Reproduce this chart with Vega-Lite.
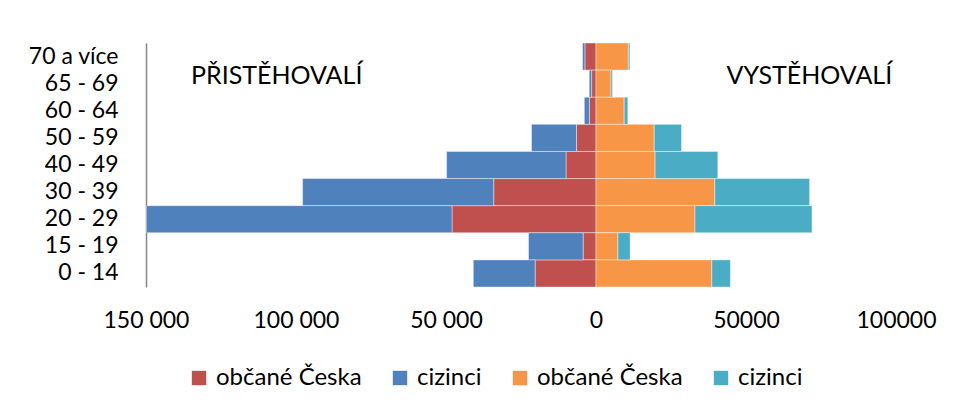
{
  "$schema": "https://vega.github.io/schema/vega-lite/v6.json",
  "width": 750,
  "height": 244,
  "autosize": {"type": "none"},
  "padding": {"left": 146, "top": 43, "right": 60, "bottom": 123},
  "background": "white",
  "config": {"font": "Lato", "view": {"stroke": null}},
  "datasets": {
    "migrace": [
      {"age": "70 a více", "group": "přistěhovalí: občané Česka", "value": -3700},
      {"age": "65 - 69", "group": "přistěhovalí: občané Česka", "value": -1450},
      {"age": "60 - 64", "group": "přistěhovalí: občané Česka", "value": -2200},
      {"age": "50 - 59", "group": "přistěhovalí: občané Česka", "value": -6500},
      {"age": "40 - 49", "group": "přistěhovalí: občané Česka", "value": -10000},
      {"age": "30 - 39", "group": "přistěhovalí: občané Česka", "value": -34100},
      {"age": "20 - 29", "group": "přistěhovalí: občané Česka", "value": -48000},
      {"age": "15 - 19", "group": "přistěhovalí: občané Česka", "value": -4300},
      {"age": "0 - 14", "group": "přistěhovalí: občané Česka", "value": -20300},
      {"age": "70 a více", "group": "přistěhovalí: cizinci", "value": -800},
      {"age": "65 - 69", "group": "přistěhovalí: cizinci", "value": -800},
      {"age": "60 - 64", "group": "přistěhovalí: cizinci", "value": -1700},
      {"age": "50 - 59", "group": "přistěhovalí: cizinci", "value": -15000},
      {"age": "40 - 49", "group": "přistěhovalí: cizinci", "value": -39800},
      {"age": "30 - 39", "group": "přistěhovalí: cizinci", "value": -63700},
      {"age": "20 - 29", "group": "přistěhovalí: cizinci", "value": -101800},
      {"age": "15 - 19", "group": "přistěhovalí: cizinci", "value": -18200},
      {"age": "0 - 14", "group": "přistěhovalí: cizinci", "value": -20600},
      {"age": "70 a více", "group": "vystěhovalí: občané Česka", "value": 10800},
      {"age": "65 - 69", "group": "vystěhovalí: občané Česka", "value": 5000},
      {"age": "60 - 64", "group": "vystěhovalí: občané Česka", "value": 9400},
      {"age": "50 - 59", "group": "vystěhovalí: občané Česka", "value": 19400},
      {"age": "40 - 49", "group": "vystěhovalí: občané Česka", "value": 19700},
      {"age": "30 - 39", "group": "vystěhovalí: občané Česka", "value": 39600},
      {"age": "20 - 29", "group": "vystěhovalí: občané Česka", "value": 33000},
      {"age": "15 - 19", "group": "vystěhovalí: občané Česka", "value": 7300},
      {"age": "0 - 14", "group": "vystěhovalí: občané Česka", "value": 38600},
      {"age": "70 a více", "group": "vystěhovalí: cizinci", "value": 500},
      {"age": "65 - 69", "group": "vystěhovalí: cizinci", "value": 500},
      {"age": "60 - 64", "group": "vystěhovalí: cizinci", "value": 1200},
      {"age": "50 - 59", "group": "vystěhovalí: cizinci", "value": 9100},
      {"age": "40 - 49", "group": "vystěhovalí: cizinci", "value": 20900},
      {"age": "30 - 39", "group": "vystěhovalí: cizinci", "value": 31600},
      {"age": "20 - 29", "group": "vystěhovalí: cizinci", "value": 39000},
      {"age": "15 - 19", "group": "vystěhovalí: cizinci", "value": 4100},
      {"age": "0 - 14", "group": "vystěhovalí: cizinci", "value": 6200}
    ],
    "popisky": [
      {"age": "65 - 69", "x": -135000, "label": "PŘISTĚHOVALÍ"},
      {"age": "65 - 69", "x": 43500, "label": "VYSTĚHOVALÍ"}
    ]
  },
  "layer": [
    {
      "data": {"name": "migrace"},
      "mark": {"type": "bar", "stroke": "white", "strokeWidth": 0.6, "strokeOpacity": 0.7},
      "encoding": {
        "y": {
          "field": "age", "type": "nominal",
          "sort": ["70 a více", "65 - 69", "60 - 64", "50 - 59", "40 - 49", "30 - 39", "20 - 29", "15 - 19", "0 - 14"],
          "scale": {"paddingInner": 0, "paddingOuter": 0},
          "axis": {"title": null, "domainColor": "#868686", "domainWidth": 1.5, "ticks": false, "labelFontSize": 23, "labelPadding": 28, "labelColor": "#000000", "labelFont": "Lato"}
        },
        "x": {
          "field": "value", "type": "quantitative", "stack": "zero",
          "scale": {"domain": [-150000, 100000], "nice": false},
          "axis": {
            "title": null, "values": [-150000, -100000, -50000, 0, 50000, 100000],
            "domain": false, "ticks": false, "grid": false, "labelFontSize": 23, "labelPadding": 22,
            "labelColor": "#000000", "labelFlush": false, "labelOverlap": false, "labelFont": "Lato",
            "labelExpr": "datum.value < 0 ? replace(format(-datum.value, ','), ',', ' ') : format(datum.value, 'd')"
          }
        },
        "color": {
          "field": "group", "type": "nominal",
          "scale": {
            "domain": ["přistěhovalí: občané Česka", "přistěhovalí: cizinci", "vystěhovalí: občané Česka", "vystěhovalí: cizinci"],
            "range": ["#C0504D", "#4F81BD", "#F79646", "#4BACC6"]
          },
          "legend": {
            "orient": "none", "legendX": 41, "legendY": 323, "direction": "horizontal", "title": null,
            "symbolType": "square", "symbolSize": 207, "symbolStrokeWidth": 0, "labelFontSize": 24,
            "labelOffset": 5, "columnPadding": 26, "labelColor": "#000000", "labelLimit": 300, "labelFont": "Lato",
            "labelExpr": "split(datum.label, ': ')[1]"
          }
        },
        "order": {"field": "group", "sort": "descending"}
      }
    },
    {
      "data": {"name": "popisky"},
      "mark": {"type": "text", "align": "left", "baseline": "alphabetic", "fontSize": 25, "font": "Lato", "color": "#000000"},
      "encoding": {
        "x": {"field": "x", "type": "quantitative"},
        "y": {"field": "age", "type": "nominal", "sort": ["70 a více", "65 - 69", "60 - 64", "50 - 59", "40 - 49", "30 - 39", "20 - 29", "15 - 19", "0 - 14"]},
        "text": {"field": "label"}
      }
    }
  ]
}
